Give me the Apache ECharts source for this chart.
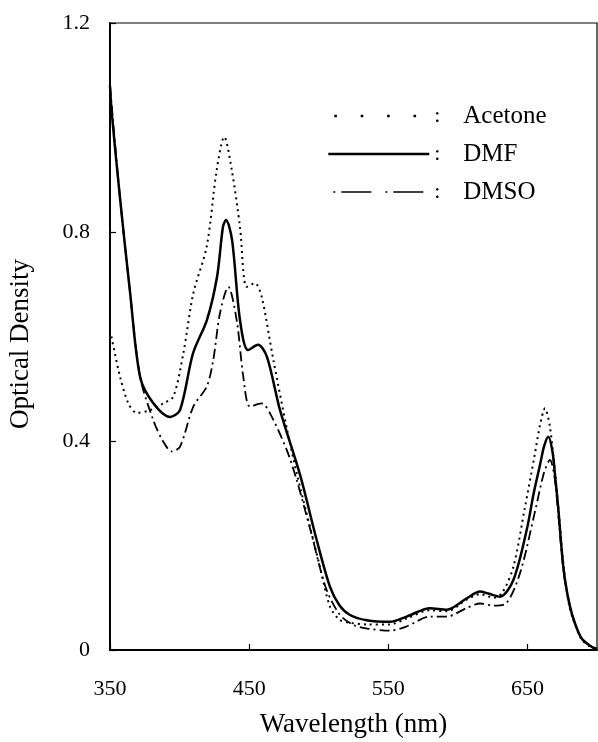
<!DOCTYPE html>
<html>
<head>
<meta charset="utf-8">
<script src="https://cdn.jsdelivr.net/npm/echarts@6/dist/echarts.min.js"></script>
<style>
html,body{margin:0;padding:0;background:#fff;}
#chart{width:598px;height:742px;}
</style>
</head>
<body>
<div id="chart"></div>
<script>
const xTickValues = [350, 450, 550, 650];
const yTickValues = [0, 0.4, 0.8, 1.2];
const seriesNames = ['Acetone', 'DMF', 'DMSO'];

const wavelengthAcetone = [351, 357.2, 363.2, 369.2, 378.7, 388.3, 395.5, 402.7, 409.9, 419.5, 426.7, 432.1, 437.5, 443.4, 448.2, 454.2, 459, 467.4, 477, 484.2, 493.7, 500.9, 508.1, 515, 522.5, 535, 551, 563, 580, 592, 606, 616, 626, 632, 640, 648, 655, 659, 662.6, 666, 669, 672, 676, 680, 684, 689, 696, 700];
const odAcetone = [0.6, 0.523, 0.472, 0.454, 0.459, 0.472, 0.485, 0.568, 0.683, 0.772, 0.919, 0.982, 0.919, 0.81, 0.695, 0.702, 0.676, 0.555, 0.425, 0.338, 0.236, 0.159, 0.083, 0.058, 0.052, 0.049, 0.049, 0.06, 0.076, 0.074, 0.096, 0.107, 0.1, 0.11, 0.16, 0.27, 0.37, 0.43, 0.4625, 0.43, 0.36, 0.28, 0.16, 0.085, 0.05, 0.02, 0.005, 0.002];

const wavelengthDMF = [350, 351.2, 357, 364.4, 371.6, 380.9, 393.1, 400.3, 409.7, 419.7, 426.9, 431.2, 433.4, 437.7, 443.4, 449.2, 456.4, 462.8, 472.2, 486.6, 498.6, 508.1, 515, 522.5, 534.5, 551.2, 563.2, 580, 592, 606.4, 615.9, 622, 630.3, 639.9, 649.5, 654.5, 659.1, 662, 665, 668, 670, 672.2, 675, 677, 680.6, 684.2, 689, 696.2, 700];
const odDMF = [1.08, 1.03, 0.87, 0.685, 0.523, 0.473, 0.446, 0.459, 0.568, 0.632, 0.714, 0.81, 0.823, 0.785, 0.632, 0.574, 0.584, 0.561, 0.459, 0.335, 0.21, 0.121, 0.085, 0.067, 0.057, 0.054, 0.064, 0.08, 0.077, 0.099, 0.112, 0.108, 0.102, 0.134, 0.23, 0.3, 0.355, 0.39, 0.408, 0.38, 0.33, 0.27, 0.18, 0.134, 0.083, 0.051, 0.022, 0.006, 0.002];

const wavelengthDMSO = [350, 357, 364.4, 371.6, 381.1, 388, 394.3, 400.3, 409.9, 419.5, 424.2, 429, 435, 441, 445.8, 450.6, 459, 465, 477, 484.2, 495, 505, 515, 525, 535, 551, 563, 580, 592, 606, 616, 626, 635, 645, 655, 662, 666.2, 669.5, 672.5, 676, 680.6, 684.2, 689, 696.2, 700];
const odDMSO = [1.08, 0.87, 0.685, 0.523, 0.44, 0.4, 0.38, 0.389, 0.466, 0.504, 0.555, 0.644, 0.695, 0.632, 0.523, 0.466, 0.472, 0.453, 0.383, 0.325, 0.22, 0.12, 0.068, 0.048, 0.041, 0.037, 0.045, 0.064, 0.064, 0.08, 0.089, 0.085, 0.09, 0.15, 0.26, 0.34, 0.364, 0.33, 0.25, 0.15, 0.083, 0.05, 0.022, 0.006, 0.002];

function zip(xs, ys) { return xs.map((x, i) => [x, ys[i]]); }

const FONT = 'Liberation Serif, Times New Roman, serif';
const chart = echarts.init(document.getElementById('chart'), null, {renderer: 'canvas'});
const hiddenSymbol = {color: 'rgba(0,0,0,0)', borderColor: 'rgba(0,0,0,0)', borderWidth: 0, opacity: 0};

chart.setOption({
  backgroundColor: '#fff',
  animation: false,
  grid: {
    left: 110, right: 1, top: 23, bottom: 92,
    containLabel: false,
    outerBoundsMode: 'none',
    show: true, borderColor: '#000', borderWidth: 1.2, backgroundColor: 'transparent'
  },
  legend: {
    orient: 'vertical',
    left: 322,
    top: 97,
    itemWidth: 101,
    itemHeight: 20,
    itemGap: 10,
    selectedMode: false,
    textStyle: {
      fontFamily: FONT, fontSize: 25, color: '#000', lineHeight: 28,
      rich: {
        c: {width: 29, fontFamily: FONT, fontSize: 22, color: '#000'},
        n: {fontFamily: FONT, fontSize: 25, color: '#000'}
      }
    },
    formatter: function (name) { return '{c|:}{n|' + name + '}'; },
    data: [
      {name: seriesNames[0], itemStyle: hiddenSymbol, lineStyle: {color: '#000', width: 2.6, type: [2.6, 23.8], dashOffset: -6}},
      {name: seriesNames[1], itemStyle: hiddenSymbol, lineStyle: {color: '#000', width: 2.5, type: 'solid'}},
      {name: seriesNames[2], itemStyle: hiddenSymbol, lineStyle: {color: '#000', width: 1.6, type: [2, 6, 30, 14], dashOffset: -5}}
    ]
  },
  xAxis: {
    type: 'value',
    min: 350, max: 700,
    name: 'Wavelength (nm)',
    nameLocation: 'middle',
    nameGap: 61,
    nameTextStyle: {fontFamily: FONT, fontSize: 27, color: '#000'},
    axisLine: {lineStyle: {color: '#000', width: 2}},
    axisTick: {inside: true, length: 6, customValues: xTickValues, lineStyle: {color: '#000', width: 1.2}},
    axisLabel: {customValues: xTickValues, margin: 28, fontFamily: FONT, fontSize: 22, color: '#000'},
    splitLine: {show: false}
  },
  yAxis: {
    type: 'value',
    min: 0, max: 1.2, interval: 0.4,
    name: 'Optical Density',
    nameLocation: 'middle',
    nameGap: 76,
    nameTextStyle: {fontFamily: FONT, fontSize: 27, color: '#000', padding: [0, 15, 0, 0]},
    axisLine: {lineStyle: {color: '#000', width: 2}},
    axisTick: {inside: true, length: 6, lineStyle: {color: '#000', width: 1.2}},
    axisLabel: {margin: 20, fontFamily: FONT, fontSize: 22, color: '#000'},
    splitLine: {show: false}
  },
  series: [
    {
      name: seriesNames[0], type: 'line', symbol: 'none', smooth: 0.3,
      lineStyle: {color: '#000', width: 2, type: [2, 4]},
      itemStyle: {color: '#000'},
      data: zip(wavelengthAcetone, odAcetone)
    },
    {
      name: seriesNames[1], type: 'line', symbol: 'none', smooth: 0.3,
      lineStyle: {color: '#000', width: 2.5, type: 'solid'},
      itemStyle: {color: '#000'},
      data: zip(wavelengthDMF, odDMF)
    },
    {
      name: seriesNames[2], type: 'line', symbol: 'none', smooth: 0.3,
      lineStyle: {color: '#000', width: 1.8, type: [10, 4, 2, 4]},
      itemStyle: {color: '#000'},
      data: zip(wavelengthDMSO, odDMSO)
    }
  ]
});
</script>
</body>
</html>
